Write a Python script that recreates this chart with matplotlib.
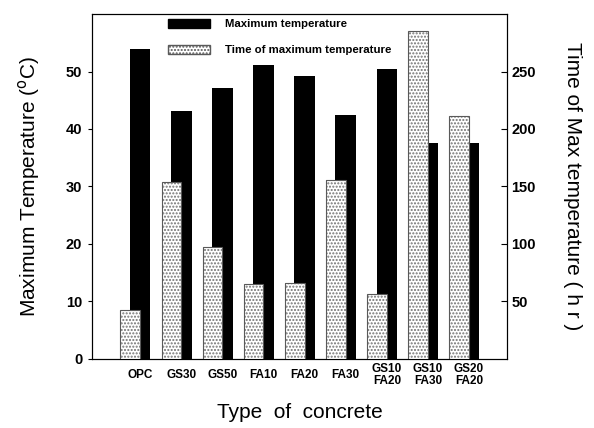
import matplotlib
matplotlib.use("Agg")
import matplotlib.pyplot as plt
import numpy as np
from matplotlib.patches import Patch

plt.rcParams['font.family'] = ['Liberation Sans', 'DejaVu Sans']

categories = ["OPC", "GS30", "GS50", "FA10", "FA20", "FA30", "GS10\nFA20", "GS10\nFA30", "GS20\nFA20"]
max_temp = [54.0, 43.2, 47.2, 51.2, 49.2, 42.5, 50.5, 37.5, 37.5]
time_max = [42.5, 154, 97, 65, 66, 156, 56, 285, 211]
left_ticks = [0, 10, 20, 30, 40, 50]
right_ticks = [50, 100, 150, 200, 250]

fig = plt.figure(figsize=(5.94, 4.28), dpi=100)
ax = fig.add_axes([0.155, 0.162, 0.699, 0.805])
ax2 = ax.twinx()

x = np.arange(len(categories))
ax.bar(x + 0.12, max_temp, width=0.5, color='black', zorder=2)
ax.set_zorder(1)
ax.patch.set_visible(False)
# dotted bars drawn in front of the black ones
ax3 = ax.twinx()
ax3.set_zorder(2)
ax3.bar(x - 0.12, time_max, width=0.48, facecolor='white', edgecolor='0.45',
        hatch='.....', linewidth=0)
ax3.bar(x - 0.12, time_max, width=0.48, facecolor='none', edgecolor='0.35',
        linewidth=0.8)
ax3.set_ylim(0, 300)
ax3.axis('off')

ax.set_xlim(-1.05, 9.05)
ax.set_ylim(0, 60)
ax2.set_ylim(0, 300)

ax.set_yticks(left_ticks)
ax.set_yticklabels([str(t) for t in left_ticks], fontsize=10.5, fontweight='bold')
ax2.set_yticks(right_ticks)
ax2.set_yticklabels([str(t) for t in right_ticks], fontsize=10.5, fontweight='bold')
ax.tick_params(axis='y', direction='out', length=3, width=0.8, pad=4)
ax2.tick_params(axis='y', direction='in', length=4, width=0.8, pad=3)

ax.set_xticks(x + 0.12)
ax.set_xticklabels(categories, fontsize=8.5, fontweight='bold', linespacing=1.0,
                   va='center')
ax.tick_params(axis='x', length=0, pad=12)

for a in (ax, ax2):
    for s in a.spines.values():
        s.set_linewidth(0.8)

ax.set_ylabel("Maximum Temperature ($^{\\rm o}$C)", fontsize=15, labelpad=17)
ax2.set_ylabel("Time of Max temperature ( h r )", fontsize=15, rotation=-90,
               labelpad=33)
ax.set_xlabel("Type  of  concrete", fontsize=15, labelpad=11)

handles = [Patch(facecolor='black', edgecolor='black'),
           Patch(facecolor='white', edgecolor='0.35', hatch='.....')]
leg = ax3.legend(handles, ["Maximum temperature", "Time of maximum temperature"],
                 loc='upper left', bbox_to_anchor=(0.183, 0.987), frameon=False,
                 prop={'size': 8.2, 'weight': 'bold'}, handlelength=3.7,
                 handleheight=0.9, handletextpad=1.3, labelspacing=1.35,
                 borderpad=0, borderaxespad=0)

fig.savefig("out.png", dpi=100)
